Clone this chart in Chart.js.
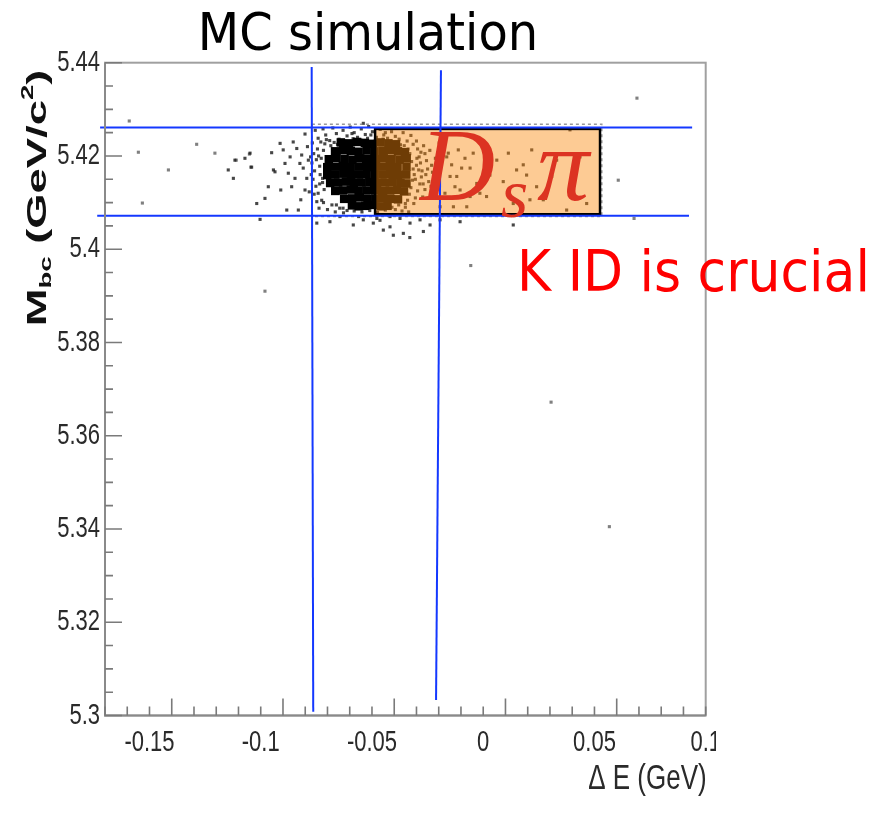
<!DOCTYPE html>
<html>
<head>
<meta charset="utf-8">
<script src="https://cdn.jsdelivr.net/npm/chart.js@4.4.1/dist/chart.umd.min.js"></script>
<style>
  body { margin: 0; background: #fff; }
  #wrap { width: 880px; height: 822px; }
  canvas { display: block; }
</style>
</head>
<body>
<div id="wrap"><canvas id="mbcChart" width="880" height="822"></canvas></div>
<script>
// axis ranges and tick labels
var xRange = [-0.17, 0.1];
var yRange = [5.3, 5.44];
var xTicks = [-0.15, -0.1, -0.05, 0, 0.05, 0.1];
var xTickLabels = ['-0.15', '-0.1', '-0.05', '0', '0.05', '0.1'];
var yTicks = [5.3, 5.32, 5.34, 5.36, 5.38, 5.4, 5.42, 5.44];
var yTickLabels = ['5.3', '5.32', '5.34', '5.36', '5.38', '5.4', '5.42', '5.44'];

// dense peak of the MC events (Delta E, Mbc)
var coreEvents = [
  [-0.0640, 5.4229], [-0.0603, 5.4227], [-0.0567, 5.4230], [-0.0532, 5.4228], [-0.0496, 5.4226], [-0.0461, 5.4229], [-0.0426, 5.4227], [-0.0392, 5.4225],
  [-0.0666, 5.4210], [-0.0630, 5.4213], [-0.0595, 5.4211], [-0.0560, 5.4209], [-0.0524, 5.4212], [-0.0489, 5.4210], [-0.0453, 5.4211], [-0.0418, 5.4213], [-0.0383, 5.4210], [-0.0352, 5.4208],
  [-0.0694, 5.4193], [-0.0659, 5.4196], [-0.0623, 5.4194], [-0.0588, 5.4192], [-0.0553, 5.4195], [-0.0517, 5.4194], [-0.0482, 5.4193], [-0.0447, 5.4195], [-0.0412, 5.4194], [-0.0376, 5.4192], [-0.0344, 5.4195],
  [-0.0701, 5.4176], [-0.0666, 5.4177], [-0.0631, 5.4179], [-0.0596, 5.4176], [-0.0561, 5.4177], [-0.0526, 5.4178], [-0.0490, 5.4176], [-0.0455, 5.4177], [-0.0420, 5.4179], [-0.0385, 5.4176], [-0.0345, 5.4177],
  [-0.0701, 5.4159], [-0.0665, 5.4160], [-0.0629, 5.4162], [-0.0594, 5.4159], [-0.0559, 5.4160], [-0.0524, 5.4161], [-0.0488, 5.4159], [-0.0453, 5.4160], [-0.0418, 5.4161], [-0.0383, 5.4159], [-0.0346, 5.4160],
  [-0.0688, 5.4142], [-0.0652, 5.4143], [-0.0617, 5.4145], [-0.0582, 5.4142], [-0.0547, 5.4143], [-0.0512, 5.4144], [-0.0477, 5.4142], [-0.0442, 5.4143], [-0.0407, 5.4144], [-0.0372, 5.4142], [-0.0345, 5.4141],
  [-0.0665, 5.4125], [-0.0630, 5.4126], [-0.0595, 5.4128], [-0.0560, 5.4125], [-0.0525, 5.4126], [-0.0490, 5.4127], [-0.0455, 5.4125], [-0.0420, 5.4126], [-0.0386, 5.4127], [-0.0356, 5.4124],
  [-0.0625, 5.4108], [-0.0590, 5.4109], [-0.0555, 5.4111], [-0.0520, 5.4108], [-0.0485, 5.4109], [-0.0450, 5.4110], [-0.0415, 5.4108], [-0.0383, 5.4107],
  [-0.0590, 5.4094], [-0.0560, 5.4092], [-0.0530, 5.4093], [-0.0495, 5.4095], [-0.0460, 5.4092], [-0.0430, 5.4093]
];

// single events around the peak
var spreadEvents = [
  // upper edge
  [-0.0755, 5.4255], [-0.0742, 5.4238], [-0.0720, 5.4258], [-0.0708, 5.4245], [-0.0690, 5.4233], [-0.0676, 5.4260], [-0.0660, 5.4248],
  [-0.0648, 5.4236], [-0.0630, 5.4255], [-0.0612, 5.4243], [-0.0598, 5.4262], [-0.0580, 5.4250], [-0.0565, 5.4240], [-0.0548, 5.4258],
  [-0.0530, 5.4246], [-0.0515, 5.4263], [-0.0498, 5.4252], [-0.0480, 5.4240], [-0.0463, 5.4257], [-0.0447, 5.4245], [-0.0430, 5.4238],
  [-0.0412, 5.4252], [-0.0395, 5.4242], [-0.0378, 5.4236], [-0.0360, 5.4250], [-0.0342, 5.4232], [-0.0325, 5.4244], [-0.0539, 5.4270],
  [-0.0685, 5.4222], [-0.0670, 5.4229], [-0.0655, 5.4225], [-0.0622, 5.4232], [-0.0585, 5.4237], [-0.0550, 5.4234], [-0.0520, 5.4238],
  [-0.0485, 5.4233], [-0.0450, 5.4236], [-0.0415, 5.4231], [-0.0372, 5.4224], [-0.0355, 5.4222], [-0.0338, 5.4215], [-0.0590, 5.4248],
  [-0.0505, 5.4245], [-0.0440, 5.4250],
  // left edge
  [-0.0768, 5.4228], [-0.0762, 5.4205], [-0.0770, 5.4185], [-0.0758, 5.4168], [-0.0765, 5.4150], [-0.0752, 5.4135], [-0.0760, 5.4118],
  [-0.0748, 5.4102], [-0.0745, 5.4215], [-0.0750, 5.4192], [-0.0742, 5.4120], [-0.0738, 5.4088], [-0.0730, 5.4230], [-0.0726, 5.4105],
  [-0.0735, 5.4178], [-0.0733, 5.4160], [-0.0728, 5.4195], [-0.0722, 5.4143], [-0.0718, 5.4212], [-0.0715, 5.4128], [-0.0712, 5.4226],
  [-0.0710, 5.4170], [-0.0722, 5.4152], [-0.0740, 5.4200], [-0.0735, 5.4140], [-0.0773, 5.4160], [-0.0776, 5.4198], [-0.0718, 5.4100],
  [-0.0705, 5.4235],
  // right tail
  [-0.0300, 5.4232], [-0.0295, 5.4215], [-0.0288, 5.4198], [-0.0282, 5.4185], [-0.0290, 5.4170], [-0.0278, 5.4155], [-0.0285, 5.4140],
  [-0.0295, 5.4125], [-0.0305, 5.4110], [-0.0312, 5.4098], [-0.0268, 5.4222], [-0.0262, 5.4205], [-0.0255, 5.4190], [-0.0250, 5.4172],
  [-0.0258, 5.4160], [-0.0245, 5.4145], [-0.0262, 5.4128], [-0.0272, 5.4112], [-0.0240, 5.4212], [-0.0232, 5.4180], [-0.0228, 5.4165],
  [-0.0222, 5.4150], [-0.0235, 5.4135], [-0.0215, 5.4195], [-0.0208, 5.4170], [-0.0200, 5.4140], [-0.0212, 5.4120], [-0.0198, 5.4228],
  [-0.0330, 5.4205], [-0.0322, 5.4188], [-0.0315, 5.4172], [-0.0310, 5.4160], [-0.0318, 5.4148], [-0.0325, 5.4132], [-0.0332, 5.4118],
  [-0.0340, 5.4105], [-0.0300, 5.4180], [-0.0305, 5.4150], [-0.0298, 5.4195], [-0.0275, 5.4168], [-0.0270, 5.4140], [-0.0280, 5.4208],
  [-0.0315, 5.4225], [-0.0350, 5.4098],
  [-0.0187, 5.4220], [-0.0172, 5.4120], [-0.0149, 5.4156], [-0.0202, 5.4170], [-0.0194, 5.4091], [-0.0112, 5.4213], [-0.0097, 5.4174],
  [-0.0127, 5.4134], [-0.0045, 5.4206], [-0.0015, 5.4120], [-0.0059, 5.4113], [-0.0157, 5.4206],
  [-0.0164, 5.4198], [-0.0142, 5.4181], [-0.0119, 5.4156], [-0.0082, 5.4195], [-0.0059, 5.4174], [-0.0029, 5.4141], [0.0008, 5.4184],
  [0.0030, 5.4159], [0.0061, 5.4191], [0.0090, 5.4145], [0.0113, 5.4206], [0.0150, 5.4170], [0.0180, 5.4181], [0.0195, 5.4159],
  [0.0218, 5.4213], [0.0240, 5.4134], [0.0270, 5.4106], [0.0308, 5.4156], [0.0330, 5.4191], [0.0390, 5.4256], [0.0390, 5.4138],
  [0.0435, 5.4198], [0.0465, 5.4098], [0.0375, 5.4084], [0.0210, 5.4106], [0.0135, 5.4098], [0.0015, 5.4113], [-0.0074, 5.4091],
  [-0.0104, 5.4127], [-0.0134, 5.4091],
  // lower edge and below
  [-0.0700, 5.4085], [-0.0680, 5.4095], [-0.0665, 5.4080], [-0.0645, 5.4088], [-0.0628, 5.4078], [-0.0612, 5.4083], [-0.0395, 5.4085],
  [-0.0380, 5.4095], [-0.0365, 5.4082], [-0.0350, 5.4090], [-0.0335, 5.4080],
  [-0.0660, 5.4095], [-0.0630, 5.4088], [-0.0580, 5.4082], [-0.0545, 5.4080], [-0.0510, 5.4083], [-0.0475, 5.4079], [-0.0440, 5.4084],
  [-0.0410, 5.4090], [-0.0560, 5.4070], [-0.0478, 5.4066],
  [-0.0464, 5.4062], [-0.0419, 5.4048], [-0.0374, 5.4066], [-0.0329, 5.4056], [-0.0284, 5.4063], [-0.0239, 5.4052], [-0.0194, 5.4063],
  [-0.0104, 5.4059], [-0.0359, 5.4034], [-0.0269, 5.4038], [0.0135, 5.4052], [-0.0449, 5.4041], [-0.0748, 5.4056], [-0.0689, 5.4059],
  [-0.0584, 5.4052], [-0.0644, 5.4070], [-0.0539, 5.4063], [-0.0419, 5.4070], [-0.0494, 5.4056], [-0.0404, 5.4030], [-0.0330, 5.4025],
  // left of the peak
  [-0.1116, 5.4191], [-0.1071, 5.4195], [-0.1048, 5.4206], [-0.1146, 5.4170], [-0.1123, 5.4152], [-0.1041, 5.4176], [-0.1018, 5.4098],
  [-0.1003, 5.4064], [-0.0981, 5.4109], [-0.0966, 5.4134], [-0.0951, 5.4207], [-0.0943, 5.4170], [-0.0936, 5.4166], [-0.0913, 5.4227],
  [-0.0910, 5.4127], [-0.0899, 5.4213], [-0.0891, 5.4184], [-0.0883, 5.4084], [-0.0876, 5.4163], [-0.0868, 5.4198], [-0.0861, 5.4134],
  [-0.0854, 5.4230], [-0.0846, 5.4152], [-0.0838, 5.4216], [-0.0831, 5.4084], [-0.0824, 5.4184], [-0.0820, 5.4106], [-0.0816, 5.4202],
  [-0.0809, 5.4174], [-0.0801, 5.4247], [-0.0801, 5.4127], [-0.0793, 5.4152], [-0.0790, 5.4220], [-0.0786, 5.4191], [-0.0782, 5.4123]
];

// isolated events far from the peak
var outlierEvents = [
  [-0.1591, 5.4275], [-0.1550, 5.4208], [-0.1288, 5.4225], [-0.1206, 5.4206], [-0.1415, 5.4170], [-0.1532, 5.4099],
  [-0.1110, 5.4191], [-0.1051, 5.4204], [-0.1045, 5.4176], [-0.0981, 5.3910], [-0.0056, 5.3965], [0.0305, 5.3672],
  [0.0567, 5.3405], [0.0691, 5.4324], [0.0607, 5.4148], [0.0678, 5.4066]
];

// signal region box, the dashed selection box and the blue cut lines
var signalBox = { x: [-0.0486, 0.0525], y: [5.4075, 5.4258] };
var selectionBox = { x: [-0.0770, 0.0533], y: [5.4070, 5.4268] };
var cutLines = [
  { x: [-0.1722, 0.0939], y: [5.4261, 5.4261] },
  { x: [-0.1735, 0.0925], y: [5.4072, 5.4072] },
  { x: [-0.0771, -0.0764], y: [5.4391, 5.3008] },
  { x: [-0.0190, -0.0212], y: [5.4384, 5.3033] }
];

function toPoints(list) {
  return list.map(function(p) { return { x: p[0], y: p[1] }; });
}

// draws text stretched vertically like the scanned axis labels
function stretchedText(ctx, text, x, y, sy, align, baseline) {
  ctx.save();
  ctx.translate(x, y);
  ctx.scale(1, sy);
  ctx.textAlign = align;
  ctx.textBaseline = baseline;
  ctx.fillText(text, 0, 0);
  ctx.restore();
}

var overlayPlugin = {
  id: 'overlay',
  beforeDatasetsDraw: function(chart) {
    // the scanned markers are soft
    chart.ctx.save();
    chart.ctx.filter = 'blur(0.6px)';
  },
  afterDatasetsDraw: function(chart) {
    var ctx = chart.ctx;
    ctx.restore();
    var sx = chart.scales.x, sy = chart.scales.y;
    ctx.save();

    // dashed selection box from the plot
    ctx.strokeStyle = 'rgba(110,110,110,0.7)';
    ctx.lineWidth = 1.5;
    ctx.setLineDash([3, 3]);
    var l = sx.getPixelForValue(selectionBox.x[0]), r = sx.getPixelForValue(selectionBox.x[1]);
    var t = sy.getPixelForValue(selectionBox.y[1]), b = sy.getPixelForValue(selectionBox.y[0]);
    ctx.strokeRect(l, t, r - l, b - t);
    ctx.setLineDash([]);

    // translucent orange signal box
    l = sx.getPixelForValue(signalBox.x[0]); r = sx.getPixelForValue(signalBox.x[1]);
    t = sy.getPixelForValue(signalBox.y[1]); b = sy.getPixelForValue(signalBox.y[0]);
    ctx.fillStyle = 'rgba(250,136,11,0.44)';
    ctx.fillRect(l, t, r - l, b - t);
    ctx.strokeStyle = '#000';
    ctx.lineWidth = 2.5;
    ctx.strokeRect(l, t, r - l, b - t);

    // blue cut lines
    ctx.strokeStyle = '#1438ff';
    ctx.lineWidth = 2;
    cutLines.forEach(function(c) {
      ctx.beginPath();
      ctx.moveTo(sx.getPixelForValue(c.x[0]), sy.getPixelForValue(c.y[0]));
      ctx.lineTo(sx.getPixelForValue(c.x[1]), sy.getPixelForValue(c.y[1]));
      ctx.stroke();
    });

    // D_s pi label inside the box
    ctx.fillStyle = '#dc3322';
    ctx.textAlign = 'left';
    ctx.textBaseline = 'alphabetic';
    ctx.font = 'italic 104px "Liberation Serif"';
    ctx.fillText('D', l + 45, b - 14);
    ctx.font = 'italic 70px "Liberation Serif"';
    ctx.fillText('s', l + 126, b + 3);
    ctx.font = 'italic 104px "Liberation Serif"';
    ctx.fillText('\u03c0', l + 162, b - 14);
    ctx.restore();
  },
  afterDraw: function(chart) {
    var ctx = chart.ctx;
    var sx = chart.scales.x, sy = chart.scales.y;
    var a = chart.chartArea;
    var i, v, p;
    ctx.save();

    // frame
    ctx.strokeStyle = '#a0a0a0';
    ctx.lineWidth = 2;
    ctx.strokeRect(a.left, a.top, a.right - a.left, a.bottom - a.top);
    ctx.strokeStyle = '#8a8a8a';
    ctx.beginPath();
    ctx.moveTo(a.left, a.top);
    ctx.lineTo(a.left, a.bottom);
    ctx.lineTo(a.right, a.bottom);
    ctx.stroke();

    // inward ticks, minor every 0.005 (y) and 0.01 (x)
    ctx.strokeStyle = '#7a7a7a';
    ctx.lineWidth = 1.6;
    ctx.beginPath();
    for (i = 0; i <= 28; i++) {
      v = 5.3 + i * 0.005;
      p = sy.getPixelForValue(v);
      ctx.moveTo(a.left, p);
      ctx.lineTo(a.left + (i % 4 === 0 ? 17 : 8), p);
    }
    for (i = 0; i <= 27; i++) {
      v = -0.17 + i * 0.01;
      p = sx.getPixelForValue(v);
      ctx.moveTo(p, a.bottom);
      ctx.lineTo(p, a.bottom - ((i + 2) % 5 === 0 ? 17 : 9));
    }
    ctx.stroke();

    // tick labels
    ctx.fillStyle = '#2a2a2a';
    ctx.font = '22px "Liberation Sans", Arial, sans-serif';
    yTicks.forEach(function(t, k) {
      stretchedText(ctx, yTickLabels[k], a.left - 5, sy.getPixelForValue(t), 1.35, 'right', 'middle');
    });
    ctx.save();
    ctx.beginPath();
    ctx.rect(0, a.bottom, 716, 80);
    ctx.clip();
    xTicks.forEach(function(t, k) {
      stretchedText(ctx, xTickLabels[k], sx.getPixelForValue(t), a.bottom + 27, 1.35, 'center', 'middle');
    });
    ctx.restore();

    // x axis title
    ctx.font = '26px "Liberation Sans", Arial, sans-serif';
    stretchedText(ctx, '\u0394 E (GeV)', a.right + 1, a.bottom + 73, 1.35, 'right', 'alphabetic');

    // y axis title, M_bc (GeV/c^2), bold and rotated
    ctx.save();
    ctx.fillStyle = '#111';
    ctx.translate(46, 198);
    ctx.rotate(-Math.PI / 2);
    ctx.scale(1.62, 1);
    var big = 'bold 28px "Liberation Sans", Arial, sans-serif';
    var small = 'bold 17px "Liberation Sans", Arial, sans-serif';
    var parts = [
      { s: 'M', f: big, dy: 0 },
      { s: 'bc', f: small, dy: 5 },
      { s: ' (GeV/c', f: big, dy: 0 },
      { s: '2', f: small, dy: -13 },
      { s: ')', f: big, dy: 0 }
    ];
    var total = 0;
    parts.forEach(function(q) { ctx.font = q.f; q.w = ctx.measureText(q.s).width; total += q.w; });
    var cx = -total / 2;
    ctx.textAlign = 'left';
    ctx.textBaseline = 'alphabetic';
    parts.forEach(function(q) { ctx.font = q.f; ctx.fillText(q.s, cx, q.dy); cx += q.w; });
    ctx.restore();

    // slide captions
    ctx.fillStyle = '#000';
    ctx.font = '48px "Comic Sans MS", "DejaVu Sans", sans-serif';
    stretchedText(ctx, 'MC simulation', 368, 50, 1.08, 'center', 'alphabetic');
    ctx.fillStyle = '#ff0000';
    ctx.font = '52px "Comic Sans MS", "DejaVu Sans", sans-serif';
    stretchedText(ctx, 'K ID is crucial', 517, 291, 1.1, 'left', 'alphabetic');
    ctx.restore();
  }
};

var ctx = document.getElementById('mbcChart').getContext('2d');
var mbcChart = new Chart(ctx, {
  type: 'scatter',
  data: {
    datasets: [
      {
        label: 'peak',
        data: toPoints(coreEvents),
        pointStyle: 'rect',
        pointRadius: 6,
        pointHoverRadius: 6,
        borderWidth: 0,
        backgroundColor: '#000'
      },
      {
        label: 'events',
        data: toPoints(spreadEvents),
        pointStyle: 'rect',
        pointRadius: 2.2,
        pointHoverRadius: 2.2,
        borderWidth: 0,
        backgroundColor: 'rgba(25,25,25,0.8)'
      },
      {
        label: 'outliers',
        data: toPoints(outlierEvents),
        pointStyle: 'rect',
        pointRadius: 2.2,
        pointHoverRadius: 2.2,
        borderWidth: 0,
        backgroundColor: 'rgba(85,85,85,0.75)'
      }
    ]
  },
  options: {
    responsive: false,
    animation: false,
    layout: { padding: { top: 62.7, right: 174.3, left: 0, bottom: 0 } },
    plugins: { legend: { display: false }, tooltip: { enabled: false } },
    scales: {
      x: {
        type: 'linear',
        min: xRange[0],
        max: xRange[1],
        grid: { display: false },
        border: { display: false },
        ticks: { display: false },
        afterFit: function(scale) { scale.height = 106.5; }
      },
      y: {
        type: 'linear',
        min: yRange[0],
        max: yRange[1],
        grid: { display: false },
        border: { display: false },
        ticks: { display: false },
        afterFit: function(scale) { scale.width = 105; }
      }
    }
  },
  plugins: [overlayPlugin]
});
</script>
</body>
</html>
